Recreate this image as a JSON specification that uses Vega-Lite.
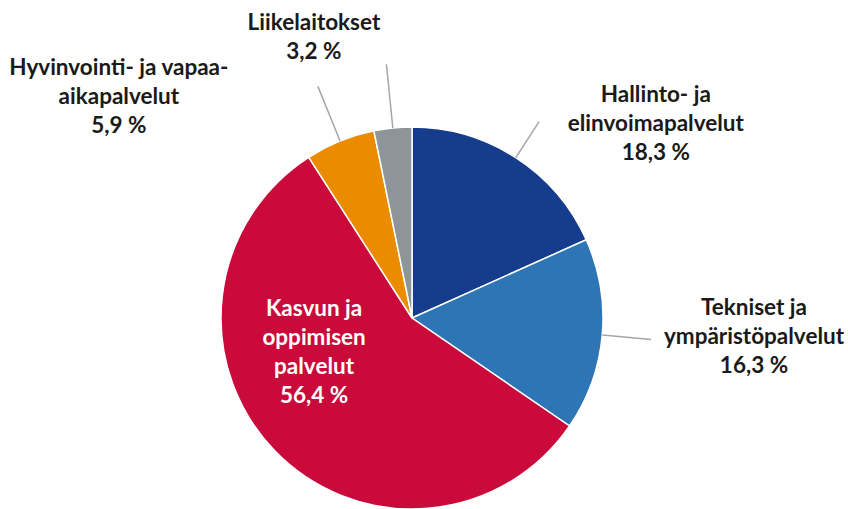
{
  "$schema": "https://vega.github.io/schema/vega-lite/v6.json",
  "width": 382,
  "height": 382,
  "autosize": "none",
  "padding": {"left": 221, "top": 127, "right": 245, "bottom": 0},
  "background": "white",
  "view": {"stroke": null},
  "config": {"text": {"font": "Lato", "fontWeight": "bold", "fontSize": 22.5, "lineBreak": "\n", "lineHeight": 29, "align": "center", "baseline": "middle", "color": "#1a1a1a"}},
  "data": {
    "values": [
      {"cat": "Hallinto- ja elinvoimapalvelut", "value": 18.3, "order": 1, "label": "Hallinto- ja\nelinvoimapalvelut\n18,3 %"},
      {"cat": "Tekniset ja ympäristöpalvelut", "value": 16.3, "order": 2, "label": "Tekniset ja\nympäristöpalvelut\n16,3 %"},
      {"cat": "Kasvun ja oppimisen palvelut", "value": 56.4, "order": 3, "label": "Kasvun ja\noppimisen\npalvelut\n56,4 %"},
      {"cat": "Hyvinvointi- ja vapaa-aikapalvelut", "value": 5.9, "order": 4, "label": "Hyvinvointi- ja vapaa-\naikapalvelut\n5,9 %"},
      {"cat": "Liikelaitokset", "value": 3.2, "order": 5, "label": "Liikelaitokset\n3,2 %"}
    ]
  },
  "transform": [
    {"window": [{"op": "sum", "field": "value", "as": "cum"}], "sort": [{"field": "order"}], "frame": [null, 0]},
    {"calculate": "datum.cum - datum.value", "as": "start"},
    {"calculate": "datum.cum - datum.value / 2", "as": "mid"}
  ],
  "layer": [
    {
      "mark": {"type": "arc", "stroke": "white", "strokeWidth": 1.5},
      "encoding": {
        "theta": {"field": "start", "type": "quantitative", "stack": null, "scale": {"domain": [0, 100.1]}},
        "theta2": {"field": "cum"},
        "radius": {"value": 191},
        "color": {
          "field": "cat", "type": "nominal", "legend": null,
          "scale": {
            "domain": ["Hallinto- ja elinvoimapalvelut", "Tekniset ja ympäristöpalvelut", "Kasvun ja oppimisen palvelut", "Hyvinvointi- ja vapaa-aikapalvelut", "Liikelaitokset"],
            "range": ["#163C8C", "#2E75B6", "#C90A3A", "#EB8C00", "#8E9599"]
          }
        }
      }
    },
    {
      "transform": [{"filter": "datum.order == 1"}],
      "mark": {"type": "arc", "stroke": "#A6A6A6", "strokeWidth": 1.5, "fill": null},
      "encoding": {"theta": {"field": "mid", "type": "quantitative", "stack": null}, "theta2": {"field": "mid"}, "radius": {"value": 234}, "radius2": {"value": 191}}
    },
    {
      "transform": [{"filter": "datum.order == 2"}],
      "mark": {"type": "arc", "stroke": "#A6A6A6", "strokeWidth": 1.5, "fill": null},
      "encoding": {"theta": {"field": "mid", "type": "quantitative", "stack": null}, "theta2": {"field": "mid"}, "radius": {"value": 240}, "radius2": {"value": 191}}
    },
    {
      "transform": [{"filter": "datum.order == 4"}],
      "mark": {"type": "arc", "stroke": "#A6A6A6", "strokeWidth": 1.5, "fill": null},
      "encoding": {"theta": {"field": "mid", "type": "quantitative", "stack": null}, "theta2": {"field": "mid"}, "radius": {"value": 250}, "radius2": {"value": 191}}
    },
    {
      "transform": [{"filter": "datum.order == 5"}],
      "mark": {"type": "arc", "stroke": "#A6A6A6", "strokeWidth": 1.5, "fill": null},
      "encoding": {"theta": {"field": "mid", "type": "quantitative", "stack": null}, "theta2": {"field": "mid"}, "radius": {"value": 255}, "radius2": {"value": 191}}
    },
    {
      "transform": [{"filter": "datum.order == 1"}],
      "mark": {"type": "text", "dx": 108, "dy": -13},
      "encoding": {"theta": {"field": "mid", "type": "quantitative", "stack": null}, "radius": {"value": 250}, "text": {"field": "label"}}
    },
    {
      "transform": [{"filter": "datum.order == 2"}],
      "mark": {"type": "text", "dx": 93, "dy": -32},
      "encoding": {"theta": {"field": "mid", "type": "quantitative", "stack": null}, "radius": {"value": 250}, "text": {"field": "label"}}
    },
    {
      "transform": [{"filter": "datum.order == 3"}],
      "mark": {"type": "text", "dx": -19, "dy": -85.5, "color": "white"},
      "encoding": {"theta": {"field": "mid", "type": "quantitative", "stack": null}, "radius": {"value": 110}, "text": {"field": "label"}}
    },
    {
      "transform": [{"filter": "datum.order == 4"}],
      "mark": {"type": "text", "dx": -199, "dy": -18},
      "encoding": {"theta": {"field": "mid", "type": "quantitative", "stack": null}, "radius": {"value": 250}, "text": {"field": "label"}}
    },
    {
      "transform": [{"filter": "datum.order == 5"}],
      "mark": {"type": "text", "dx": -71, "dy": -26.5},
      "encoding": {"theta": {"field": "mid", "type": "quantitative", "stack": null}, "radius": {"value": 270}, "text": {"field": "label"}}
    }
  ]
}
